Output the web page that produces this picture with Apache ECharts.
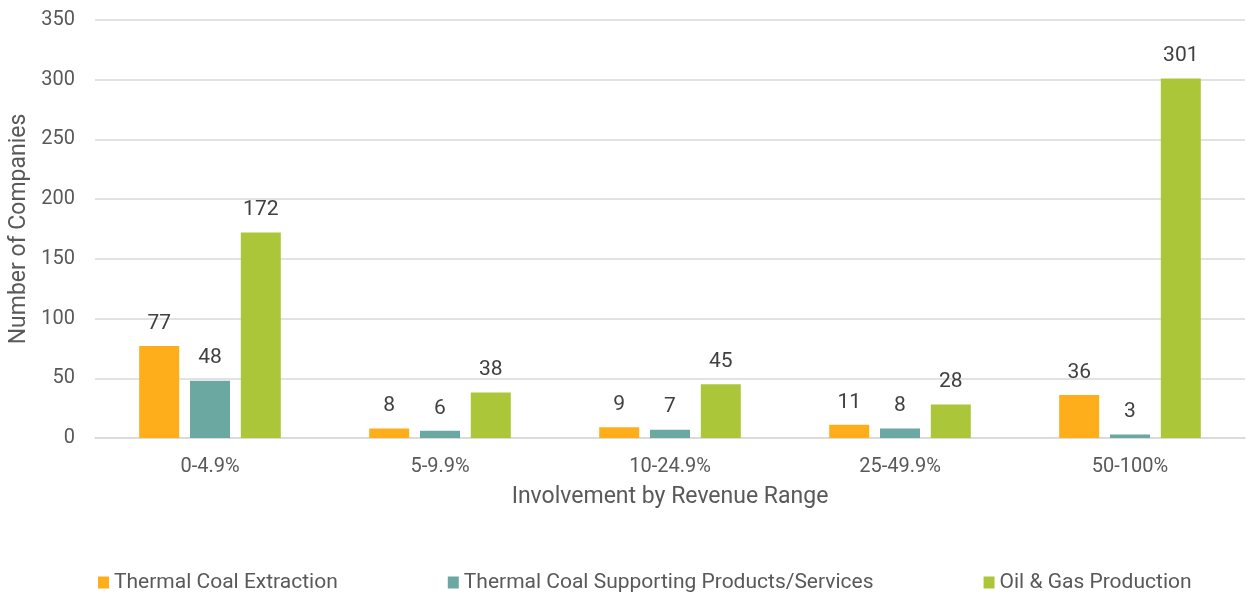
<!DOCTYPE html>
<html>
<head>
<meta charset="utf-8">
<script src="https://cdn.jsdelivr.net/npm/echarts@6/dist/echarts.min.js"></script>
<style>
  html, body { margin: 0; padding: 0; background: #fff; }
  #chart { width: 1246px; height: 595px; }
</style>
</head>
<body>
<div id="chart"></div>
<script>
// Revenue-range buckets and number of companies in each
const categories = ['0-4.9%', '5-9.9%', '10-24.9%', '25-49.9%', '50-100%'];
const coalExtraction = [77, 8, 9, 11, 36];
const coalSupporting = [48, 6, 7, 8, 3];
const oilGas = [172, 38, 45, 28, 301];
const seriesNames = ['Thermal Coal Extraction', 'Thermal Coal Supporting Products/Services', 'Oil & Gas Production'];
const seriesColors = ['#FDAE1A', '#6AA8A1', '#ABC739'];

const font = 'Roboto, "Liberation Sans", sans-serif';
const chart = echarts.init(document.getElementById('chart'));

function barSeries(name, data, color) {
  return {
    name: name,
    type: 'bar',
    data: data,
    barWidth: 40,
    barGap: '27%',
    itemStyle: { color: color },
    label: {
      show: true,
      position: 'top',
      distance: 12,
      color: '#404040',
      fontFamily: font,
      fontSize: 21
    }
  };
}

chart.setOption({
  animation: false,
  textStyle: { fontFamily: font },
  grid: { left: 95, right: 1, top: 20, bottom: 157, outerBoundsMode: 'none', containLabel: false },
  legend: {
    left: 93,
    top: 567,
    itemGap: 110,
    itemWidth: 11,
    itemHeight: 12,
    icon: 'rect',
    textStyle: { color: '#595959', fontSize: 21, fontFamily: font },
    data: seriesNames
  },
  xAxis: {
    type: 'category',
    data: categories,
    name: 'Involvement by Revenue Range',
    nameLocation: 'middle',
    nameGap: 48,
    nameTextStyle: { color: '#595959', fontSize: 23, fontFamily: font },
    axisLine: { lineStyle: { color: '#D9D9D9', width: 1.5 } },
    axisTick: { show: false },
    axisLabel: { color: '#595959', fontSize: 20, margin: 19, fontFamily: font }
  },
  yAxis: {
    type: 'value',
    min: 0,
    max: 350,
    interval: 50,
    name: 'Number of Companies',
    nameLocation: 'middle',
    nameGap: 64,
    nameTextStyle: { color: '#595959', fontSize: 23, fontFamily: font },
    axisLine: { show: false },
    axisTick: { show: false },
    axisLabel: { color: '#595959', fontSize: 20, margin: 20, fontFamily: font },
    splitLine: { lineStyle: { color: '#D9D9D9', width: 1.5 } }
  },
  series: [
    barSeries(seriesNames[0], coalExtraction, seriesColors[0]),
    barSeries(seriesNames[1], coalSupporting, seriesColors[1]),
    barSeries(seriesNames[2], oilGas, seriesColors[2])
  ]
});
</script>
</body>
</html>
